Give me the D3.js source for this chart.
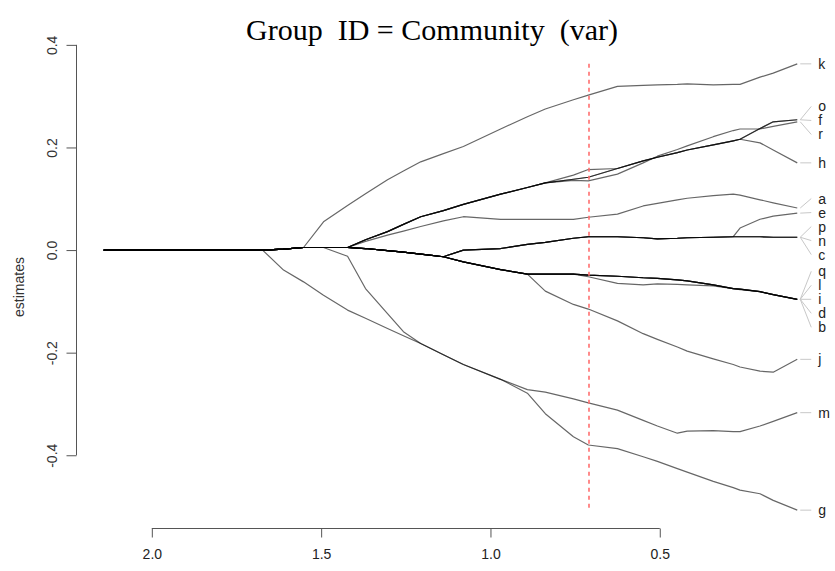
<!DOCTYPE html>
<html>
<head>
<meta charset="utf-8">
<script src="https://cdn.jsdelivr.net/npm/d3@7"></script>
<style>
  html, body { margin: 0; padding: 0; background: #fff; }
  svg { display: block; }
</style>
</head>
<body>
<svg id="chart" width="835" height="571"></svg>
<script>
// Penalty values along the path (x axis, decreasing left to right)
const lambda = [2.142, 1.673, 1.611, 1.552, 1.493, 1.422, 1.369, 1.304, 1.257, 1.206,
                1.139, 1.080, 0.970, 0.891, 0.838, 0.755, 0.711, 0.625, 0.549, 0.507,
                0.448, 0.419, 0.342, 0.283, 0.263, 0.204, 0.165, 0.094];

// Coefficient estimates for each community along the path
const coef_k = [0, 0, 0.002, 0.005, 0.055, 0.087, 0.110, 0.137, 0.154, 0.172, 0.188, 0.202, 0.236, 0.260, 0.275, 0.293, 0.302, 0.319, 0.321, 0.322, 0.323, 0.324, 0.322, 0.323, 0.323, 0.337, 0.345, 0.363];
const coef_o = [0, 0, 0.002, 0.005, 0.005, 0.005, 0.020, 0.036, 0.050, 0.065, 0.077, 0.089, 0.109, 0.122, 0.131, 0.146, 0.157, 0.159, 0.174, 0.181, 0.190, 0.195, 0.205, 0.213, 0.216, 0.237, 0.250, 0.254];
const coef_f = [0, 0, 0.002, 0.005, 0.005, 0.005, 0.020, 0.036, 0.050, 0.065, 0.077, 0.089, 0.109, 0.122, 0.131, 0.138, 0.142, 0.159, 0.174, 0.181, 0.190, 0.195, 0.205, 0.213, 0.216, 0.237, 0.250, 0.254];
const coef_r = [0, 0, 0.002, 0.005, 0.005, 0.005, 0.020, 0.036, 0.050, 0.065, 0.077, 0.089, 0.109, 0.122, 0.131, 0.136, 0.135, 0.148, 0.170, 0.183, 0.196, 0.203, 0.221, 0.233, 0.236, 0.236, 0.241, 0.250];
const coef_h = [0, 0, 0.002, 0.005, 0.005, 0.005, 0.020, 0.036, 0.050, 0.065, 0.077, 0.089, 0.109, 0.122, 0.131, 0.138, 0.142, 0.159, 0.174, 0.181, 0.190, 0.195, 0.205, 0.213, 0.216, 0.209, 0.195, 0.170];
const coef_a = [0, 0, 0.002, 0.005, 0.005, 0.005, 0.017, 0.029, 0.037, 0.046, 0.057, 0.065, 0.060, 0.060, 0.060, 0.060, 0.064, 0.070, 0.086, 0.091, 0.098, 0.101, 0.106, 0.109, 0.107, 0.098, 0.092, 0.082];
const coef_e = [0, 0, 0.002, 0.005, 0.005, 0.005, 0.003, -0.001, -0.004, -0.008, -0.013, 0.000, 0.003, 0.011, 0.015, 0.023, 0.026, 0.026, 0.024, 0.022, 0.023, 0.024, 0.025, 0.026, 0.043, 0.060, 0.066, 0.072];
const coef_p = [0, 0, 0.002, 0.005, 0.005, 0.005, 0.003, -0.001, -0.004, -0.008, -0.013, 0.000, 0.003, 0.011, 0.015, 0.023, 0.026, 0.026, 0.024, 0.022, 0.023, 0.024, 0.025, 0.026, 0.026, 0.026, 0.025, 0.025];
const coef_n = [0, 0, 0.002, 0.005, 0.005, 0.005, 0.003, -0.001, -0.004, -0.008, -0.013, 0.000, 0.003, 0.011, 0.015, 0.023, 0.026, 0.026, 0.024, 0.022, 0.023, 0.024, 0.025, 0.026, 0.026, 0.026, 0.025, 0.025];
const coef_c = [0, 0, 0.002, 0.005, 0.005, 0.005, 0.003, -0.001, -0.004, -0.008, -0.013, 0.000, 0.003, 0.011, 0.015, 0.023, 0.026, 0.026, 0.024, 0.022, 0.023, 0.024, 0.025, 0.026, 0.026, 0.026, 0.025, 0.025];
const coef_q = [0, 0, 0.002, 0.005, 0.005, 0.005, 0.003, -0.001, -0.004, -0.008, -0.013, -0.023, -0.038, -0.047, -0.047, -0.047, -0.049, -0.051, -0.054, -0.055, -0.058, -0.060, -0.068, -0.075, -0.076, -0.081, -0.087, -0.096];
const coef_l = [0, 0, 0.002, 0.005, 0.005, 0.005, 0.003, -0.001, -0.004, -0.008, -0.013, -0.023, -0.038, -0.047, -0.047, -0.047, -0.052, -0.065, -0.068, -0.066, -0.067, -0.068, -0.070, -0.075, -0.077, -0.081, -0.087, -0.096];
const coef_i = [0, 0, 0.002, 0.005, 0.005, 0.005, 0.003, -0.001, -0.004, -0.008, -0.013, -0.023, -0.038, -0.047, -0.047, -0.047, -0.049, -0.051, -0.054, -0.055, -0.058, -0.060, -0.068, -0.075, -0.076, -0.081, -0.087, -0.096];
const coef_d = [0, 0, 0.002, 0.005, 0.005, 0.005, 0.003, -0.001, -0.004, -0.008, -0.013, -0.023, -0.038, -0.047, -0.047, -0.047, -0.049, -0.051, -0.054, -0.055, -0.058, -0.060, -0.068, -0.075, -0.076, -0.081, -0.087, -0.096];
const coef_b = [0, 0, 0.002, 0.005, 0.005, 0.005, 0.003, -0.001, -0.004, -0.008, -0.013, -0.023, -0.038, -0.047, -0.047, -0.047, -0.049, -0.051, -0.054, -0.055, -0.058, -0.060, -0.068, -0.075, -0.076, -0.081, -0.087, -0.096];
const coef_j = [0, 0, 0.002, 0.005, 0.005, 0.005, 0.003, -0.001, -0.004, -0.008, -0.013, -0.023, -0.038, -0.047, -0.080, -0.106, -0.115, -0.138, -0.163, -0.174, -0.189, -0.197, -0.212, -0.223, -0.228, -0.236, -0.238, -0.213];
const coef_m = [0, 0, -0.039, -0.062, -0.088, -0.117, -0.133, -0.153, -0.167, -0.182, -0.204, -0.223, -0.252, -0.272, -0.277, -0.290, -0.298, -0.312, -0.332, -0.343, -0.357, -0.353, -0.352, -0.354, -0.354, -0.343, -0.334, -0.317];
const coef_g = [0, 0, 0.002, 0.005, 0.005, -0.012, -0.075, -0.124, -0.159, -0.182, -0.204, -0.223, -0.252, -0.279, -0.319, -0.364, -0.380, -0.387, -0.403, -0.412, -0.426, -0.433, -0.451, -0.463, -0.468, -0.475, -0.488, -0.507];

// Labels, in the order they are stacked at the right edge
const groups = ["k", "o", "f", "r", "h", "a", "e", "p", "n", "c", "q", "l", "i", "d", "b", "j", "m", "g"];
const coefs = { k: coef_k, o: coef_o, f: coef_f, r: coef_r, h: coef_h, a: coef_a, e: coef_e,
                p: coef_p, n: coef_n, c: coef_c, q: coef_q, l: coef_l, i: coef_i, d: coef_d,
                b: coef_b, j: coef_j, m: coef_m, g: coef_g };

const xTicks = [2.0, 1.5, 1.0, 0.5];
const yTicks = [-0.4, -0.2, 0.0, 0.2, 0.4];
const selectedLambda = 0.708;   // chosen penalty, dashed marker
const titleText = "Group  ID = Community  (var)";
const yLabel = "estimates";

// ---- layout ----
const plot = { left: 76, right: 825, top: 46, bottom: 528 };

const svg = d3.select("#chart");

// R-style 4% padding around the data range
const lMin = d3.min(lambda), lMax = d3.max(lambda);
const lPad = 0.04 * (lMax - lMin);
const allVals = groups.flatMap(g => coefs[g]);
const vMin = d3.min(allVals), vMax = d3.max(allVals);
const vPad = 0.04 * (vMax - vMin);

const x = d3.scaleLinear().domain([lMax + lPad, lMin - lPad]).range([plot.left, plot.right]);
const y = d3.scaleLinear().domain([vMin - vPad, vMax + vPad]).range([plot.bottom, plot.top]);

const fmt = d => d.toFixed(1);
const axisColor = "#555";

// ---- x axis ----
const xAxis = svg.append("g")
  .attr("transform", `translate(0,${plot.bottom + 0.5})`)
  .call(d3.axisBottom(x).tickValues(xTicks).tickFormat(fmt).tickSize(9).tickPadding(12));
xAxis.select(".domain").remove();
xAxis.append("line")
  .attr("x1", x(d3.max(xTicks))).attr("x2", x(d3.min(xTicks)))
  .attr("stroke", axisColor);
xAxis.selectAll(".tick line").attr("stroke", axisColor);
xAxis.selectAll(".tick text")
  .attr("fill", "#222")
  .style("font-family", "'Liberation Sans', Arial, sans-serif")
  .style("font-size", "14px");

// ---- y axis ----
const yAxis = svg.append("g")
  .attr("transform", `translate(${plot.left + 0.5},0)`)
  .call(d3.axisLeft(y).tickValues(yTicks).tickFormat(fmt).tickSize(10));
yAxis.select(".domain").remove();
yAxis.append("line")
  .attr("y1", y(d3.max(yTicks))).attr("y2", y(d3.min(yTicks)))
  .attr("stroke", axisColor);
yAxis.selectAll(".tick line").attr("stroke", axisColor);
yAxis.selectAll(".tick text")
  .attr("x", null).attr("dy", null)
  .attr("transform", "translate(-25,0) rotate(-90)")
  .attr("text-anchor", "middle")
  .attr("dominant-baseline", "central")
  .attr("fill", "#333")
  .style("font-family", "'Liberation Sans', Arial, sans-serif")
  .style("font-size", "14px");

// y label, centred on the plot region
svg.append("text")
  .attr("transform", `translate(19,${(plot.top + plot.bottom) / 2}) rotate(-90)`)
  .attr("text-anchor", "middle")
  .attr("dominant-baseline", "central")
  .attr("fill", "#333")
  .style("font-family", "'Liberation Sans', Arial, sans-serif")
  .style("font-size", "14px")
  .text(yLabel);

// title
svg.append("text")
  .attr("x", 432)
  .attr("y", 40)
  .attr("text-anchor", "middle")
  .attr("fill", "#000")
  .style("font-family", "'Liberation Serif', 'Times New Roman', serif")
  .style("font-size", "30px")
  .style("white-space", "pre")
  .text(titleText);

// ---- coefficient paths ----
const line = d3.line().x((d, i) => x(lambda[i])).y(d => y(d));
svg.append("g")
  .selectAll("path")
  .data(groups)
  .join("path")
  .attr("d", g => line(coefs[g]))
  .attr("fill", "none")
  .attr("stroke", "rgba(0,0,0,0.6)")
  .attr("stroke-width", 1.2)
  .attr("stroke-linejoin", "round");

// ---- selected penalty (two full pixels wide so the red stays visible) ----
const xSel = Math.round(x(selectedLambda));
svg.append("line")
  .attr("x1", xSel).attr("x2", xSel)
  .attr("y1", y(vMax)).attr("y2", y(vMin))
  .attr("stroke", "#ff6e6e")
  .attr("stroke-width", 1.6)
  .attr("stroke-dasharray", "4,4");

// ---- end labels, spread so they don't overlap ----
const gap = 14;
const last = lambda.length - 1;
const ends = groups.map(g => ({ name: g, y0: y(coefs[g][last]) }));
const sorted = ends.slice().sort((a, b) => a.y0 - b.y0);
let clusters = sorted.map(d => ({ members: [d], top: d.y0 }));
let merged = true;
while (merged) {
  merged = false;
  for (let i = 0; i < clusters.length - 1; i++) {
    const c = clusters[i], nx = clusters[i + 1];
    if (c.top + c.members.length * gap > nx.top) {
      const members = c.members.concat(nx.members);
      const top = d3.mean(members, (d, j) => d.y0 - j * gap);
      clusters.splice(i, 2, { members, top });
      merged = true;
      break;
    }
  }
}
clusters.forEach(c => c.members.forEach((d, j) => { d.y = c.top + j * gap; }));

const xEnd = x(lambda[last]);
const lab = svg.append("g");
lab.selectAll("line")
  .data(ends)
  .join("line")
  .attr("x1", xEnd + 3).attr("y1", d => d.y0)
  .attr("x2", xEnd + 14).attr("y2", d => d.y)
  .attr("stroke", "#c8c8c8")
  .attr("stroke-width", 1);
lab.selectAll("text")
  .data(ends)
  .join("text")
  .attr("x", xEnd + 21)
  .attr("y", d => d.y)
  .attr("dominant-baseline", "central")
  .attr("fill", "#222")
  .style("font-family", "'Liberation Sans', Arial, sans-serif")
  .style("font-size", "14px")
  .text(d => d.name);
</script>
</body>
</html>
